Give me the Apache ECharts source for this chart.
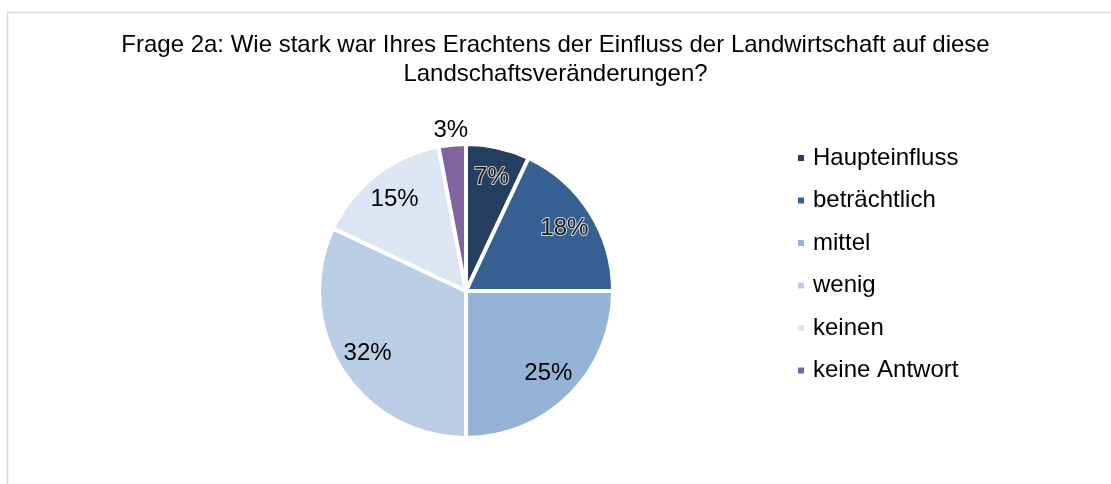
<!DOCTYPE html>
<html>
<head>
<meta charset="utf-8">
<script src="https://cdn.jsdelivr.net/npm/echarts@6/dist/echarts.min.js"></script>
<style>
  html, body { margin: 0; padding: 0; background: #fff; }
  #main { width: 1111px; height: 484px; }
</style>
</head>
<body>
<div id="main"></div>
<script>
// Frage 2a - Einfluss der Landwirtschaft
var categories = ['Haupteinfluss', 'beträchtlich', 'mittel', 'wenig', 'keinen', 'keine Antwort'];
var values = [7, 18, 25, 32, 15, 3];
var colors = ['#243f60', '#376092', '#95b3d7', '#b9cde5', '#dce6f2', '#8064a2'];
// labels drawn outside the pie
var outsideLabels = ['keine Antwort'];

var myChart = echarts.init(document.getElementById('main'));

var pieData = categories.map(function (name, i) {
	return { name: name, value: values[i], itemStyle: { color: colors[i] } };
});

var labelData = categories.map(function (name, i) {
	var dark = i < 2;
	return {
		name: name,
		value: values[i],
		label: {
			show: outsideLabels.indexOf(name) < 0,
			color: dark ? '#1a1a1a' : '#000',
			textBorderColor: dark ? 'rgba(255,255,255,0.75)' : 'transparent',
			textBorderWidth: dark ? 2 : 0
		}
	};
});

var outerData = categories.map(function (name, i) {
	return {
		name: name,
		value: values[i],
		label: { show: outsideLabels.indexOf(name) >= 0 }
	};
});

var center = [466, 291];
var R = 147;

var option = {
	backgroundColor: '#fff',
	animation: false,
	title: {
		text: 'Frage 2a: Wie stark war Ihres Erachtens der Einfluss der Landwirtschaft auf diese\nLandschaftsveränderungen?',
		left: 'center',
		top: 26,
		textStyle: {
			fontFamily: 'Liberation Sans, Arial',
			fontSize: 24,
			fontWeight: 'normal',
			color: '#000',
			lineHeight: 29
		}
	},
	legend: {
		orient: 'vertical',
		left: 796,
		top: 146,
		padding: 0,
		itemWidth: 8,
		itemHeight: 8,
		itemGap: 18.5,
		icon: 'rect',
		data: categories,
		textStyle: {
			fontFamily: 'Liberation Sans, Arial',
			fontSize: 24,
			color: '#000',
			padding: [0, 0, 0, 3]
		}
	},
	graphic: [{
		type: 'rect',
		shape: { x: 7.5, y: 12.5, width: 1200, height: 600 },
		style: { fill: 'none', stroke: '#d9d9d9', lineWidth: 1.5 },
		silent: true
	}],
	series: [{
		name: 'Einfluss',
		type: 'pie',
		center: center,
		radius: [0, R],
		startAngle: 90,
		clockwise: true,
		data: pieData,
		label: { show: false },
		labelLine: { show: false },
		itemStyle: { borderColor: '#fff', borderWidth: 4 }
	}, {
		name: 'labels',
		type: 'pie',
		center: center,
		radius: [80, R],
		startAngle: 90,
		clockwise: true,
		silent: true,
		legendHoverLink: false,
		data: labelData,
		itemStyle: { color: 'transparent' },
		label: {
			position: 'inside',
			formatter: '{c}%',
			fontFamily: 'Liberation Sans, Arial',
			fontSize: 24
		},
		labelLine: { show: false }
	}, {
		name: 'outer',
		type: 'pie',
		center: center,
		radius: [R, R + 22],
		startAngle: 90,
		clockwise: true,
		silent: true,
		legendHoverLink: false,
		data: outerData,
		itemStyle: { color: 'transparent' },
		label: {
			position: 'inside',
			formatter: '{c}%',
			fontFamily: 'Liberation Sans, Arial',
			fontSize: 24,
			color: '#000'
		},
		labelLine: { show: false }
	}]
};

myChart.setOption(option);
</script>
</body>
</html>
